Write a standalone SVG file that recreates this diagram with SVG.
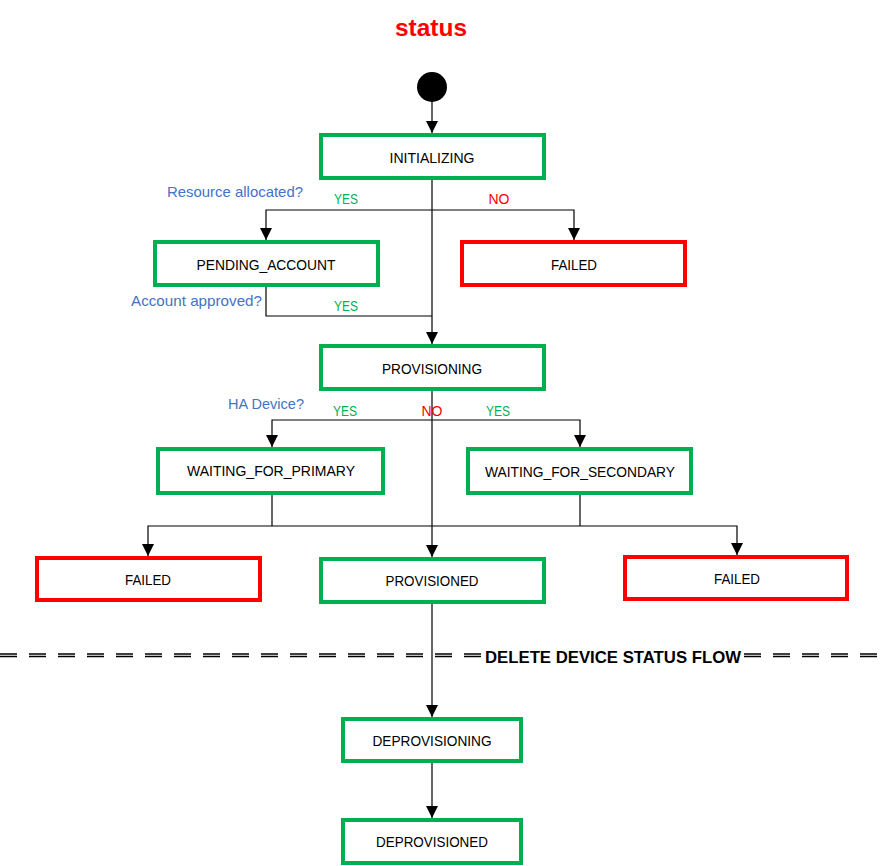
<svg xmlns="http://www.w3.org/2000/svg" width="881" height="866" viewBox="0 0 881 866">
<style>
.ok{fill:#fff;stroke:#00B050;stroke-width:4}
.bad{fill:#fff;stroke:#FF0000;stroke-width:4}
.lbl{font-family:"Liberation Sans",Arial,sans-serif;font-size:15.5px;fill:#000;text-anchor:middle}
.q{font-family:"Liberation Sans",Arial,sans-serif;font-size:15px;fill:#4472C4}
.y{font-family:"Liberation Sans",Arial,sans-serif;font-size:15px;fill:#00B050;text-anchor:middle}
.n{font-family:"Liberation Sans",Arial,sans-serif;font-size:15px;fill:#FF0000;text-anchor:middle}
.c{fill:none;stroke:#000;stroke-width:1.2}
.a{marker-end:url(#arr)}
.dash{stroke:#000;stroke-width:1.3;stroke-dasharray:17 12}
</style>
<defs>
<marker id="arr" viewBox="0 0 12 12" refX="12" refY="6" markerWidth="12" markerHeight="12" markerUnits="userSpaceOnUse" orient="auto">
<path d="M0,0 L12,6 L0,12 Z" fill="#000"/>
</marker>
</defs>
<rect width="881" height="866" fill="#fff"/>
<text x="431" y="36" font-family="'Liberation Sans',Arial,sans-serif" font-weight="bold" font-size="24" fill="#FF0000" text-anchor="middle" textLength="72" lengthAdjust="spacingAndGlyphs">status</text>

<g id="connectors">
<path class="c a" d="M432,102 V133"/>
<path class="c a" d="M432,180 V344"/>
<path class="c a" d="M432,210 H266 V240"/>
<path class="c a" d="M432,210 H574 V240"/>
<path class="c" d="M266,287 V316 H432"/>
<path class="c a" d="M432,391 V557"/>
<path class="c a" d="M432,420 H272 V447"/>
<path class="c a" d="M432,420 H580 V447"/>
<path class="c" d="M272,495 V526"/>
<path class="c" d="M580,495 V526"/>
<path class="c a" d="M432,526 H148 V556"/>
<path class="c a" d="M432,526 H737 V555"/>
<path class="c a" d="M432,604 V717"/>
<path class="c a" d="M432,763 V818"/>
</g>

<g id="start"><circle cx="432" cy="87" r="15" fill="#000"/></g>

<g id="initializing"><rect class="ok" x="321" y="135" width="223" height="43"/><text class="lbl" x="432" y="163" textLength="85" lengthAdjust="spacingAndGlyphs">INITIALIZING</text></g>
<g id="pending_account"><rect class="ok" x="155" y="242" width="223" height="43"/><text class="lbl" x="266" y="270" textLength="139" lengthAdjust="spacingAndGlyphs">PENDING_ACCOUNT</text></g>
<g id="failed_1"><rect class="bad" x="462" y="242" width="223" height="43"/><text class="lbl" x="574" y="270" textLength="46" lengthAdjust="spacingAndGlyphs">FAILED</text></g>
<g id="provisioning"><rect class="ok" x="321" y="346" width="223" height="43"/><text class="lbl" x="432" y="374" textLength="100" lengthAdjust="spacingAndGlyphs">PROVISIONING</text></g>
<g id="waiting_primary"><rect class="ok" x="158" y="449" width="225" height="44"/><text class="lbl" x="271" y="476" textLength="168" lengthAdjust="spacingAndGlyphs">WAITING_FOR_PRIMARY</text></g>
<g id="waiting_secondary"><rect class="ok" x="468" y="449" width="223" height="44"/><text class="lbl" x="580" y="477" textLength="190" lengthAdjust="spacingAndGlyphs">WAITING_FOR_SECONDARY</text></g>
<g id="failed_2"><rect class="bad" x="37" y="558" width="223" height="42"/><text class="lbl" x="148" y="585" textLength="46" lengthAdjust="spacingAndGlyphs">FAILED</text></g>
<g id="provisioned"><rect class="ok" x="321" y="559" width="223" height="43"/><text class="lbl" x="432" y="586" textLength="93" lengthAdjust="spacingAndGlyphs">PROVISIONED</text></g>
<g id="failed_3"><rect class="bad" x="625" y="557" width="222" height="42"/><text class="lbl" x="737" y="584" textLength="46" lengthAdjust="spacingAndGlyphs">FAILED</text></g>
<g id="deprovisioning"><rect class="ok" x="343" y="719" width="178" height="42"/><text class="lbl" x="432" y="746" textLength="119" lengthAdjust="spacingAndGlyphs">DEPROVISIONING</text></g>
<g id="deprovisioned"><rect class="ok" x="343" y="820" width="178" height="43"/><text class="lbl" x="432" y="847" textLength="112" lengthAdjust="spacingAndGlyphs">DEPROVISIONED</text></g>

<g id="labels">
<text class="q" x="167" y="197" textLength="136" lengthAdjust="spacingAndGlyphs">Resource allocated?</text>
<text class="y" x="346" y="204" textLength="24" lengthAdjust="spacingAndGlyphs">YES</text>
<text class="n" x="499" y="204" textLength="21" lengthAdjust="spacingAndGlyphs">NO</text>
<text class="q" x="131" y="306" textLength="131" lengthAdjust="spacingAndGlyphs">Account approved?</text>
<text class="y" x="346" y="311" textLength="24" lengthAdjust="spacingAndGlyphs">YES</text>
<text class="q" x="228" y="409" textLength="76" lengthAdjust="spacingAndGlyphs">HA Device?</text>
<text class="y" x="345" y="416" textLength="24" lengthAdjust="spacingAndGlyphs">YES</text>
<text class="n" x="432" y="416" textLength="21" lengthAdjust="spacingAndGlyphs">NO</text>
<text class="y" x="498" y="416" textLength="24" lengthAdjust="spacingAndGlyphs">YES</text>
</g>

<g id="separator">
<line class="dash" x1="0" y1="654" x2="482" y2="654"/>
<line class="dash" x1="0" y1="656.5" x2="482" y2="656.5"/>
<line class="dash" x1="744" y1="654" x2="881" y2="654"/>
<line class="dash" x1="744" y1="656.5" x2="881" y2="656.5"/>
<text x="485" y="663" font-family="'Liberation Sans',Arial,sans-serif" font-weight="bold" font-size="17" fill="#000" textLength="256" lengthAdjust="spacingAndGlyphs">DELETE DEVICE STATUS FLOW</text>
</g>
</svg>
